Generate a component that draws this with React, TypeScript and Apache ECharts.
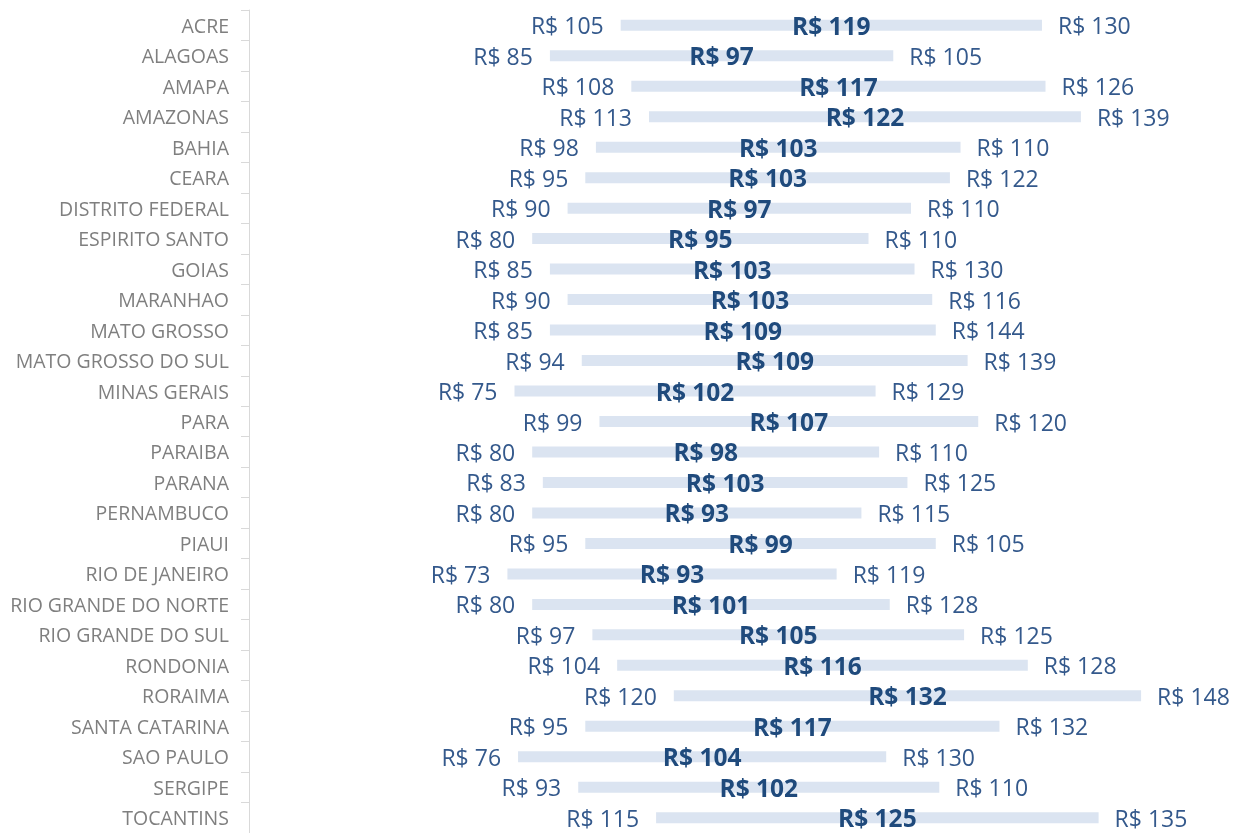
import React, { useEffect, useRef } from "react";
import * as echarts from "echarts";

const states: string[] = [
  "ACRE", "ALAGOAS", "AMAPA", "AMAZONAS", "BAHIA", "CEARA", "DISTRITO FEDERAL",
  "ESPIRITO SANTO", "GOIAS", "MARANHAO", "MATO GROSSO", "MATO GROSSO DO SUL",
  "MINAS GERAIS", "PARA", "PARAIBA", "PARANA", "PERNAMBUCO", "PIAUI",
  "RIO DE JANEIRO", "RIO GRANDE DO NORTE", "RIO GRANDE DO SUL", "RONDONIA",
  "RORAIMA", "SANTA CATARINA", "SAO PAULO", "SERGIPE", "TOCANTINS",
];
const minValues: number[] = [
  105, 85, 108, 113, 98, 95, 90, 80, 85, 90, 85, 94, 75, 99, 80, 83, 80, 95, 73,
  80, 97, 104, 120, 95, 76, 93, 115,
];
const avgValues: number[] = [
  119, 97, 117, 122, 103, 103, 97, 95, 103, 103, 109, 109, 102, 107, 98, 103, 93,
  99, 93, 101, 105, 116, 132, 117, 104, 102, 125,
];
const maxValues: number[] = [
  130, 105, 126, 139, 110, 122, 110, 110, 130, 116, 144, 139, 129, 120, 110, 125,
  115, 105, 119, 128, 125, 128, 148, 132, 130, 110, 135,
];
const spacer: number[] = states.map(() => 0);

const money = (v: number) => "R$ " + v;

export default function App() {
  const ref = useRef<HTMLDivElement>(null);
  useEffect(() => {
    if (!ref.current) return;
    const chart = echarts.init(ref.current, null, { renderer: "svg" });
    const font = "'Open Sans', sans-serif";
    chart.setOption({
      animation: false,
      grid: { left: 249, top: 10, width: 973.5, height: 825.6 },
      xAxis: {
        type: "value",
        min: 0,
        max: 275,
        show: false,
      },
      yAxis: {
        type: "category",
        data: states,
        inverse: true,
        axisLine: { show: true, lineStyle: { color: "#d9d9d9", width: 1 } },
        axisTick: { show: true, length: 8, lineStyle: { color: "#d9d9d9" } },
        axisLabel: {
          color: "#7f7f7f",
          fontFamily: font,
          fontSize: 19.5,
          margin: 20,
          padding: [0, 0, 3, 0],
        },
        splitLine: { show: false },
      },
      series: [
        {
          type: "bar",
          stack: "s",
          data: minValues,
          barWidth: 11,
          itemStyle: { color: "transparent" },
          label: {
            show: true,
            position: "insideRight",
            distance: 17,
            formatter: (p: any) => money(minValues[p.dataIndex]),
            color: "#34598c",
            fontFamily: font,
            fontSize: 23,
          },
          silent: true,
        },
        {
          type: "bar",
          stack: "s",
          data: avgValues,
          barWidth: 11,
          itemStyle: { color: "#dbe4f1" },
          label: {
            show: true,
            position: "inside",
            formatter: (p: any) => money(avgValues[p.dataIndex]),
            color: "#1f4a7c",
            fontFamily: font,
            fontWeight: "bold",
            fontSize: 24.5,
          },
        },
        {
          type: "bar",
          stack: "s",
          data: spacer,
          barWidth: 11,
          itemStyle: { color: "transparent" },
          label: {
            show: true,
            position: "right",
            distance: 16,
            formatter: (p: any) => money(maxValues[p.dataIndex]),
            color: "#34598c",
            fontFamily: font,
            fontSize: 23,
          },
          silent: true,
        },
      ],
    });
    return () => chart.dispose();
  }, []);
  return (
    <div
      ref={ref}
      style={{ position: "fixed", left: 0, top: 0, width: 1237, height: 833 }}
    />
  );
}
